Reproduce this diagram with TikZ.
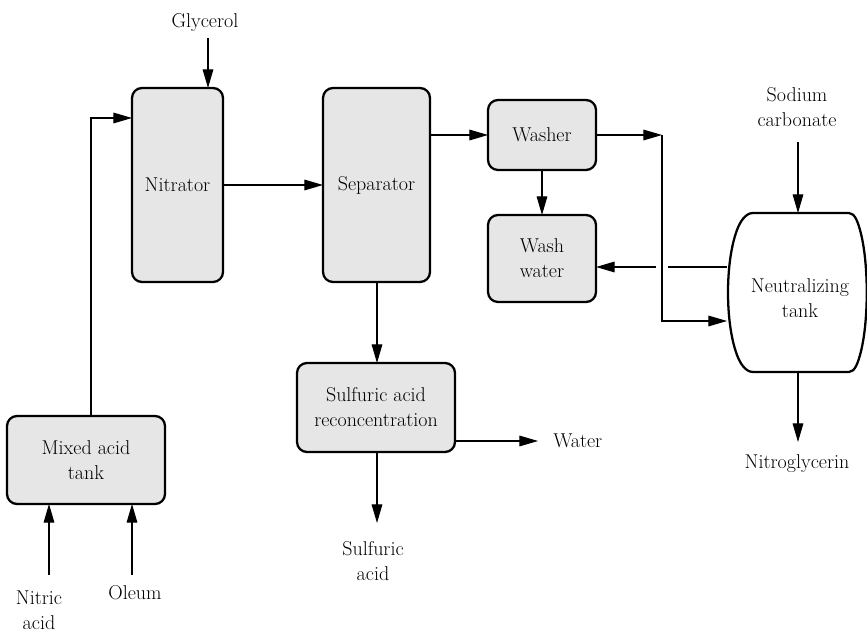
\documentclass[tikz,border=0pt]{standalone}
\usetikzlibrary{arrows.meta}
\definecolor{boxgray}{HTML}{E6E6E6}
\begin{document}
\begin{tikzpicture}[x=0.75pt,y=-0.75pt,
  every node/.style={font=\rmfamily\fontsize{15pt}{18.75pt}\selectfont, align=center},
  unit/.style={draw, line width=1.7pt, fill=boxgray, rounded corners=7.5pt, inner sep=0pt, outer sep=0pt},
  lbl/.style={inner sep=0pt},
  flow/.style={line width=0.8pt, -{Triangle[length=14pt,width=8pt]}},
  plain/.style={line width=0.8pt}]
\useasboundingbox (0,0) rectangle (867,634);

% process units
\node[unit, minimum width=68.25pt, minimum height=145.5pt] (nitrator) at (177.5,185) {Nitrator};
\node[unit, minimum width=80.25pt, minimum height=145.5pt] (separator) at (376.5,185) {Separator};
\node[unit, minimum width=81pt, minimum height=52.5pt] (washer) at (542,135) {Washer};
\node[unit, minimum width=81pt, minimum height=65.25pt] (washwater) at (542,258.5) {Wash\\water};
\node[unit, minimum width=118.5pt, minimum height=66.75pt] (sulf) at (376,407.5) {Sulfuric acid\\reconcentration};
\node[unit, minimum width=118.5pt, minimum height=66pt] (mixed) at (86,460) {Mixed acid\\tank};

% neutralizing tank (barrel shape)
\draw[line width=1.7pt, fill=white]
  (753,213) -- (849,213) .. controls (855,213) and (858,223) .. (860,230)
  .. controls (869,262) and (869,323) .. (860,355)
  .. controls (858,362) and (855,372) .. (849,372)
  -- (753,372) .. controls (745,372) and (739.5,362) .. (737,355)
  .. controls (725,323) and (725,262) .. (737,230)
  .. controls (739.5,223) and (745,213) .. (753,213) -- cycle;
\node[draw=none, minimum width=104.25pt, minimum height=119.25pt, inner sep=0pt, outer sep=0pt] (tank) at (796.5,292.5) {};
\node[lbl] (tanktext) at (800,298) {Neutralizing\\tank};

% labels
\node[lbl] (glycerol) at (205,23) {Glycerol};
\node[lbl] (sodium) at (797,107) {Sodium\\carbonate};
\node[lbl] (nitro) at (797,464) {Nitroglycerin};
\node[lbl, anchor=west] (water) at (553,441) {Water};
\node[lbl] (sacid) at (373,561) {Sulfuric\\acid};
\node[lbl] (nitric) at (39,610) {Nitric\\acid};
\node[lbl] (oleum) at (135,593) {Oleum};

% free ends
\coordinate (gly0) at (208,38);
\coordinate (sod0) at (798,142);
\coordinate (nit1) at (798,442);
\coordinate (wat1) at (538,441);
\coordinate (sa1) at (377,523);
\coordinate (na0) at (49,575);
\coordinate (ol0) at (132,575);
\coordinate (j1) at (662,135);
\coordinate (j2) at (662,321);
\coordinate (g1) at (668,267);
\coordinate (g2) at (656,267);
\coordinate (m1) at (91,118);

% connectors
\draw[flow] (gly0) -- (gly0 |- nitrator.north);
\draw[flow] (mixed.north -| m1) -- (m1) -- (m1 -| nitrator.west);
\draw[flow] (na0) -- (na0 |- mixed.south);
\draw[flow] (ol0) -- (ol0 |- mixed.south);
\draw[flow] (nitrator.east) -- (separator.west);
\draw[flow] (separator.east |- washer.west) -- (washer.west);
\draw[flow] (washer.south) -- (washwater.north);
\draw[flow] (washer.east) -- (j1);
\draw[flow] (j1) -- (j2) -- (j2 -| tank.west);
\draw[plain] (tank.west |- g1) -- (g1);
\draw[flow] (g2) -- (g2 -| washwater.east);
\draw[flow] (separator.south -| sa1) -- (sa1 |- sulf.north);
\draw[flow] (sulf.east |- wat1) -- (wat1);
\draw[flow] (sulf.south -| sa1) -- (sa1);
\draw[flow] (sod0) -- (sod0 |- tank.north);
\draw[flow] (nit1 |- tank.south) -- (nit1);
\end{tikzpicture}
\end{document}
